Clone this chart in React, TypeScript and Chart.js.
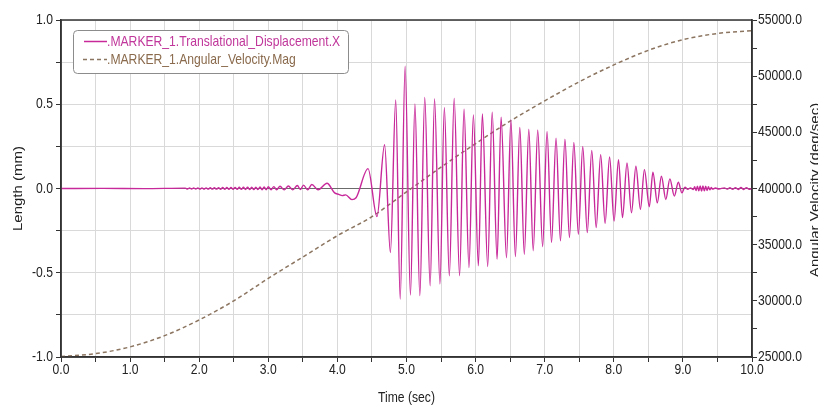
import React, { useEffect, useRef } from 'react';
import { Chart, registerables } from 'chart.js';

Chart.register(...registerables);

// ---- data (time in sec, displacement in mm) ----
const dispQuiet: [number, number][] = [
  [0, 0], [0.6, 0.001], [1.2, -0.001],
  [1.8, 0.002], [1.83, -0.003], [1.86, 0.003], [1.89, -0.003], [1.92, 0.003], [1.95, -0.003],
  [1.98, 0.004], [2.01, -0.004], [2.04, 0.004], [2.07, -0.004], [2.1, 0.004], [2.13, -0.004],
  [2.16, 0.005], [2.19, -0.004], [2.22, 0.005], [2.25, -0.004], [2.28, 0.005], [2.31, -0.005],
  [2.34, 0.006], [2.37, -0.005], [2.4, 0.006], [2.43, -0.005], [2.46, 0.006], [2.49, -0.005],
  [2.52, 0.006], [2.55, -0.005], [2.58, 0.007], [2.61, -0.005], [2.64, 0.007], [2.67, -0.006],
  [2.7, 0.007], [2.73, -0.006], [2.76, 0.008], [2.79, -0.006], [2.82, 0.008], [2.85, -0.006],
  [2.88, 0.009], [2.91, -0.007], [2.94, 0.009], [2.97, -0.007], [3.0, 0.01], [3.04, -0.007],
  [3.08, 0.011], [3.12, -0.007],
];

const dispRunUp: [number, number][] = [
  [3.17, 0.013], [3.23, -0.008], [3.29, 0.015], [3.355, -0.008], [3.42, 0.018], [3.465, -0.006],
  [3.51, 0.02], [3.57, -0.008], [3.63, 0.024], [3.72, -0.008], [3.85, 0.031], [3.96, -0.026],
  [4.02, -0.035], [4.07, -0.042], [4.12, -0.038], [4.21, -0.066], [4.27, -0.055],
];

const dispResonance: [number, number][] = [
  [4.443, 0.118], [4.573, -0.167], [4.683, 0.26], [4.767, -0.38], [4.844, 0.526], [4.909, -0.656],
  [4.98, 0.726], [5.057, -0.632], [5.122, 0.502], [5.193, -0.636], [5.264, 0.541], [5.342, -0.577],
  [5.406, 0.531], [5.484, -0.567], [5.548, 0.48], [5.62, -0.518], [5.69, 0.535], [5.768, -0.518],
  [5.833, 0.47], [5.904, -0.469], [5.968, 0.437], [6.04, -0.459], [6.098, 0.443], [6.175, -0.463],
  [6.24, 0.453], [6.311, -0.419], [6.369, 0.423], [6.447, -0.411], [6.511, 0.407], [6.576, -0.404],
  [6.64, 0.362], [6.705, -0.39], [6.77, 0.352], [6.834, -0.37], [6.899, 0.348], [6.97, -0.346],
  [7.034, 0.339], [7.099, -0.321], [7.164, 0.299], [7.228, -0.311], [7.293, 0.293], [7.358, -0.291],
  [7.422, 0.274], [7.487, -0.272], [7.551, 0.25], [7.616, -0.262], [7.681, 0.226], [7.745, -0.232],
  [7.81, 0.201], [7.874, -0.207], [7.939, 0.187], [8.004, -0.193], [8.068, 0.171], [8.126, -0.173],
  [8.191, 0.152], [8.256, -0.144], [8.32, 0.132], [8.385, -0.124], [8.443, 0.112], [8.514, -0.108],
  [8.566, 0.096], [8.63, -0.085], [8.689, 0.073], [8.753, -0.065], [8.811, 0.057], [8.876, -0.045],
  [8.934, 0.037], [8.986, -0.026],
];

const dispTail: [number, number][] = [
  [9.03, 0.008], [9.07, -0.005], [9.11, 0.004], [9.15, -0.006], [9.17, 0.01], [9.19, -0.012],
  [9.21, 0.014], [9.23, -0.014], [9.25, 0.015], [9.27, -0.015], [9.29, 0.015], [9.31, -0.014],
  [9.33, 0.013], [9.35, -0.012], [9.37, 0.01], [9.39, -0.008], [9.41, 0.006], [9.43, -0.004],
  [9.47, 0.003], [9.52, -0.003], [9.6, 0.004], [9.64, -0.004], [9.68, 0.005], [9.72, -0.005],
  [9.76, 0.005], [9.8, -0.006], [9.84, 0.006], [9.88, -0.006], [9.92, 0.005], [9.96, -0.005],
  [10.0, 0],
];

// ---- angular velocity (deg/sec) ----
const velocityTime = [0, 0.5, 1.0, 1.5, 2.0, 2.5, 3.0, 3.5, 4.0, 4.5, 5.0, 5.5, 6.0, 6.5, 7.0, 7.5, 8.0, 8.5, 9.0, 9.5, 10.0];
const velocityValue = [25050, 25300, 25900, 26900, 28300, 30000, 32000, 33900, 35800, 37500, 39700, 41900, 44000, 46000, 47800, 49500, 51000, 52300, 53250, 53800, 54050];

// ---- tick labels ----
const xLabelValues = [0, 1, 2, 3, 4, 5, 6, 7, 8, 9, 10];
const leftLabelValues = [-1, -0.5, 0, 0.5, 1];
const rightLabelValues = [25000, 30000, 35000, 40000, 45000, 50000, 55000];

const seriesNames = ['.MARKER_1.Translational_Displacement.X', '.MARKER_1.Angular_Velocity.Mag'];
const axisTitles = { x: 'Time (sec)', left: 'Length (mm)', right: 'Angular Velocity (deg/sec)' };

const FAMILY = "'Liberation Sans', Arial, sans-serif";
const FONT = `15px ${FAMILY}`;
const SQUEEZE = 0.81;
const MAGENTA = '#c8299a';
const MAGENTA_TEXT = '#c0369a';
const BROWN = '#8c7560';
const BROWN_TEXT = '#8a6a4c';
const AXIS = '#333333';
const TEXT = '#222222';
const GRID = '#d9d9d9';

// The whole picture is squeezed horizontally: text is narrowed along the screen x axis.
function narrowText(ctx: CanvasRenderingContext2D, text: string, x: number, y: number, align: CanvasTextAlign, color: string, rotate = 0, baseline: CanvasTextBaseline = 'middle') {
  ctx.save();
  ctx.translate(x, y);
  ctx.scale(SQUEEZE, 1);
  if (rotate) ctx.rotate(rotate);
  ctx.font = FONT;
  ctx.fillStyle = color;
  ctx.textAlign = align;
  ctx.textBaseline = baseline;
  ctx.fillText(text, 0, 0);
  ctx.restore();
}

const decorPlugin = {
  id: 'decor',
  afterDatasetsDraw(chart: any) {
    const { ctx, chartArea: a } = chart;
    ctx.save();
    ctx.strokeStyle = AXIS;
    ctx.lineWidth = 1.5;
    ctx.strokeRect(a.left, a.top, a.right - a.left, a.bottom - a.top);

    const bx = 73.5, by = 30.5, bw = 275, bh = 43;
    ctx.beginPath();
    ctx.roundRect(bx, by, bw, bh, 4);
    ctx.fillStyle = '#ffffff';
    ctx.fill();
    ctx.strokeStyle = '#8c8c8c';
    ctx.lineWidth = 1;
    ctx.stroke();

    ctx.beginPath();
    ctx.strokeStyle = MAGENTA;
    ctx.lineWidth = 1.5;
    ctx.moveTo(84, 41.5);
    ctx.lineTo(107, 41.5);
    ctx.stroke();
    narrowText(ctx, seriesNames[0], 107, 42, 'left', MAGENTA_TEXT);

    ctx.beginPath();
    ctx.strokeStyle = BROWN;
    ctx.lineWidth = 1.5;
    ctx.setLineDash([4, 3]);
    ctx.moveTo(83, 59.5);
    ctx.lineTo(107, 59.5);
    ctx.stroke();
    ctx.setLineDash([]);
    narrowText(ctx, seriesNames[1], 107, 60, 'left', BROWN_TEXT);
    ctx.restore();
  },
  afterDraw(chart: any) {
    const { ctx, chartArea: a, scales } = chart;
    xLabelValues.forEach((v) => narrowText(ctx, v.toFixed(1), scales.x.getPixelForValue(v), 370, 'center', TEXT));
    leftLabelValues.forEach((v) => narrowText(ctx, v.toFixed(1), 53, scales.y.getPixelForValue(v), 'right', TEXT));
    rightLabelValues.forEach((v) => narrowText(ctx, v.toFixed(1), 758, scales.y1.getPixelForValue(v), 'left', TEXT));
    narrowText(ctx, axisTitles.x, (a.left + a.right) / 2, 398, 'center', TEXT);
    narrowText(ctx, axisTitles.left, 21.5, (a.top + a.bottom) / 2, 'center', TEXT, -Math.PI / 2, 'alphabetic');
    narrowText(ctx, axisTitles.right, 819, 190, 'center', TEXT, -Math.PI / 2, 'alphabetic');
  },
};

export default function App() {
  const canvasRef = useRef<HTMLCanvasElement | null>(null);

  useEffect(() => {
    if (!canvasRef.current) return;
    const dispPoints = [...dispQuiet, ...dispRunUp, ...dispResonance, ...dispTail].map(([x, y]) => ({ x, y }));
    const velPoints = velocityTime.map((x, i) => ({ x, y: velocityValue[i] }));

    const chart = new Chart(canvasRef.current, {
      type: 'line',
      data: {
        datasets: [
          {
            label: seriesNames[0],
            data: dispPoints,
            yAxisID: 'y',
            borderColor: MAGENTA,
            borderWidth: 1.4,
            pointRadius: 0,
            cubicInterpolationMode: 'monotone',
            fill: false,
          },
          {
            label: seriesNames[1],
            data: velPoints,
            yAxisID: 'y1',
            borderColor: BROWN,
            borderWidth: 1.5,
            borderDash: [4, 3],
            pointRadius: 0,
            cubicInterpolationMode: 'monotone',
            fill: false,
          },
        ],
      },
      options: {
        animation: false,
        responsive: true,
        maintainAspectRatio: false,
        layout: { padding: { top: 20, left: 0, right: 0, bottom: 0 } },
        plugins: { legend: { display: false }, tooltip: { enabled: false } },
        scales: {
          x: {
            type: 'linear',
            min: 0,
            max: 10,
            afterFit: (s: any) => { s.height = 51; },
            ticks: { stepSize: 0.5, autoSkip: false, maxRotation: 0, display: false },
            grid: { color: GRID, tickColor: AXIS, tickLength: 5, lineWidth: 1 },
            border: { color: AXIS, width: 1.5 },
          },
          y: {
            type: 'linear',
            position: 'left',
            min: -1,
            max: 1,
            afterFit: (s: any) => { s.width = 61; },
            ticks: { stepSize: 0.25, autoSkip: false, display: false },
            grid: {
              color: (c: any) => (c.tick && Math.abs(c.tick.value) < 1e-9 ? '#6b6b6b' : GRID),
              tickColor: AXIS,
              tickLength: 5,
              lineWidth: 1,
            },
            border: { color: AXIS, width: 1.5 },
          },
          y1: {
            type: 'linear',
            position: 'right',
            min: 25000,
            max: 55000,
            afterFit: (s: any) => { s.width = 66; },
            ticks: { stepSize: 2500, autoSkip: false, display: false },
            grid: { drawOnChartArea: false, tickColor: AXIS, tickLength: 5 },
            border: { color: AXIS, width: 1.5 },
          },
        },
      },
      plugins: [decorPlugin],
    } as any);

    return () => chart.destroy();
  }, []);

  return (
    <div style={{ position: 'absolute', left: 0, top: 0, width: 818, height: 408, background: '#ffffff' }}>
      <canvas ref={canvasRef} />
    </div>
  );
}
